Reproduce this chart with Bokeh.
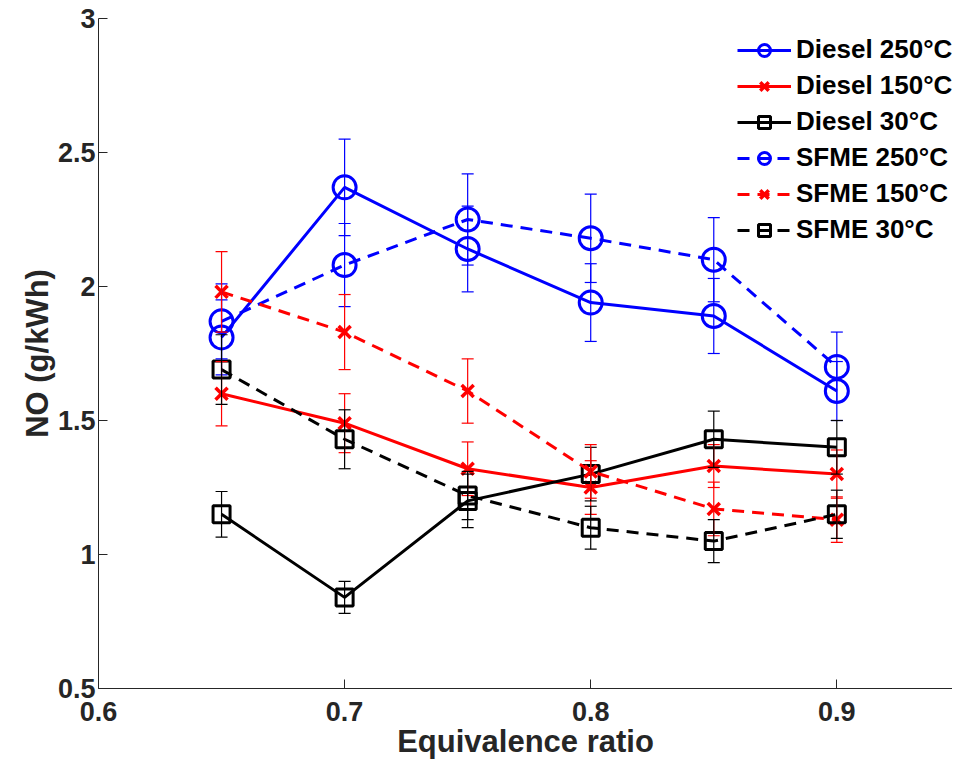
from bokeh.plotting import figure
from bokeh.models import ColumnDataSource, Whisker, TeeHead, Legend, LegendItem, FixedTicker
from bokeh.embed import file_html
from bokeh.resources import INLINE

# ---- data ----
phi = [0.65, 0.70, 0.75, 0.80, 0.85, 0.90]

diesel_250 = [1.81, 2.37, 2.14, 1.94, 1.89, 1.61]
diesel_250_err = [0.14, 0.18, 0.16, 0.145, 0.14, 0.11]
diesel_150 = [1.60, 1.49, 1.32, 1.25, 1.33, 1.30]
diesel_150_err = [0.12, 0.11, 0.10, 0.10, 0.08, 0.09]
diesel_30 = [1.15, 0.84, 1.20, 1.30, 1.43, 1.40]
diesel_30_err = [0.085, 0.06, 0.10, 0.10, 0.105, 0.10]
sfme_250 = [1.87, 2.08, 2.25, 2.18, 2.10, 1.70]
sfme_250_err = [0.14, 0.155, 0.17, 0.165, 0.157, 0.13]
sfme_150 = [1.98, 1.83, 1.61, 1.31, 1.17, 1.13]
sfme_150_err = [0.15, 0.14, 0.12, 0.10, 0.10, 0.085]
sfme_30 = [1.69, 1.43, 1.22, 1.10, 1.05, 1.15]
sfme_30_err = [0.13, 0.11, 0.09, 0.08, 0.08, 0.09]

x_ticks = [0.6, 0.7, 0.8, 0.9]
x_tick_labels = ["0.6", "0.7", "0.8", "0.9"]
y_ticks = [0.5, 1.0, 1.5, 2.0, 2.5, 3.0]
y_tick_labels = ["0.5", "1", "1.5", "2", "2.5", "3"]

series = [
    ("Diesel 250°C", diesel_250, diesel_250_err, "#0000FF", "solid", "circle"),
    ("Diesel 150°C", diesel_150, diesel_150_err, "#FF0000", "solid", "x"),
    ("Diesel 30°C", diesel_30, diesel_30_err, "#000000", "solid", "square"),
    ("SFME 250°C", sfme_250, sfme_250_err, "#0000FF", "dashed", "circle"),
    ("SFME 150°C", sfme_150, sfme_150_err, "#FF0000", "dashed", "x"),
    ("SFME 30°C", sfme_30, sfme_30_err, "#000000", "dashed", "square"),
]

FONT = "Liberation Sans"
TXT = "#262626"

p = figure(width=952, height=761, x_range=(0.6, 0.947), y_range=(0.5, 3.0),
           output_backend="svg", toolbar_location=None,
           min_border_left=98, min_border_right=0, min_border_top=18, min_border_bottom=73)
p.outline_line_color = None
p.xgrid.visible = False
p.ygrid.visible = False

for ax in (p.xaxis[0], p.yaxis[0]):
    ax.axis_line_color = TXT
    ax.axis_line_width = 1
    ax.major_tick_line_color = TXT
    ax.major_tick_in = 9
    ax.major_tick_out = 0
    ax.minor_tick_line_color = None
    ax.major_label_text_font = FONT
    ax.major_label_text_font_style = "bold"
    ax.major_label_text_font_size = "27px"
    ax.major_label_text_color = TXT
    ax.axis_label_text_font = FONT
    ax.axis_label_text_font_style = "bold"
    ax.axis_label_text_font_size = "31px"
    ax.axis_label_text_color = TXT

p.xaxis.ticker = FixedTicker(ticks=x_ticks)
p.yaxis.ticker = FixedTicker(ticks=y_ticks)
p.xaxis.major_label_overrides = {t: l for t, l in zip(x_ticks, x_tick_labels)}
p.yaxis.major_label_overrides = {t: l for t, l in zip(y_ticks, y_tick_labels)}
p.xaxis.axis_label = "Equivalence ratio"
p.yaxis.axis_label = "NO (g/kWh)"
p.xaxis.major_label_standoff = 13
p.xaxis.axis_label_standoff = 0
p.yaxis.major_label_standoff = 3
p.yaxis.axis_label_standoff = 0

items = []
for label, ys, errs, color, dash, marker in series:
    src = ColumnDataSource(dict(x=phi, y=ys,
                                lo=[v - e for v, e in zip(ys, errs)],
                                hi=[v + e for v, e in zip(ys, errs)]))
    w = Whisker(base="x", lower="lo", upper="hi", source=src,
                line_color=color, line_width=1.2, level="glyph",
                upper_head=TeeHead(size=12, line_color=color, line_width=1.2),
                lower_head=TeeHead(size=12, line_color=color, line_width=1.2))
    p.add_layout(w)
    lr = p.line("x", "y", source=src, line_color=color, line_width=3,
                line_dash=("12 8" if dash == "dashed" else "solid"))
    if marker == "circle":
        sr = p.scatter("x", "y", source=src, marker="circle", size=23,
                       fill_color=None, line_color=color, line_width=3)
    elif marker == "x":
        sr = p.scatter("x", "y", source=src, marker="x", size=17,
                       line_color=color, line_width=3.5)
    else:
        sr = p.scatter("x", "y", source=src, marker="square", size=17,
                       fill_color=None, line_color=color, line_width=3)
    items.append(LegendItem(label=label, renderers=[lr, sr]))

legend = Legend(items=items, location=(639, 443),
                label_text_font=FONT, label_text_font_style="bold",
                label_text_font_size="26px", label_text_color="#000000",
                glyph_width=54, glyph_height=30, label_height=30,
                spacing=5, padding=4, margin=0, label_standoff=5,
                border_line_color=None, background_fill_alpha=0)
p.add_layout(legend)

open("out.html", "w").write(file_html(p, INLINE))
